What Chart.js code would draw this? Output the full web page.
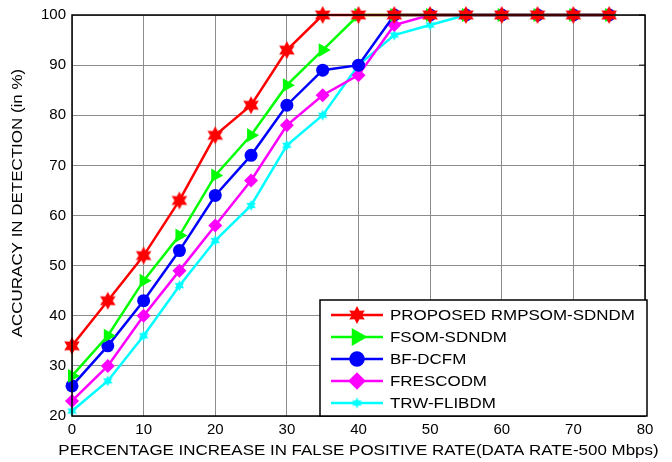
<!DOCTYPE html>
<html><head><meta charset="utf-8">
<script src="https://cdn.jsdelivr.net/npm/chart.js@4.4.1/dist/chart.umd.min.js"></script>
<style>html,body{margin:0;padding:0;background:#fff;}#wrap{width:672px;height:462px;}</style>
</head><body><div id="wrap"><canvas id="c" width="672" height="462"></canvas></div>
<script>
const xValues = [0,5,10,15,20,25,30,35,40,45,50,55,60,65,70,75];
const proposed = [34,43,52,63,76,82,93,100,100,100,100,100,100,100,100,100];
const fsom     = [28,36,47,56,68,76,86,93,100,100,100,100,100,100,100,100];
const bfdcfm   = [26,34,43,53,64,72,82,89,90,100,100,100,100,100,100,100];
const fresco   = [23,30,40,49,58,67,78,84,88,98,100,100,100,100,100,100];
const trw      = [21,27,36,46,55,62,74,80,90,96,98,100,100,100,100,100];
const seriesNames = ['PROPOSED RMPSOM-SDNDM','FSOM-SDNDM','BF-DCFM','FRESCODM','TRW-FLIBDM'];
const xTicks = [0,10,20,30,40,50,60,70,80];
const yTicks = [20,30,40,50,60,70,80,90,100];
const xTitle = 'PERCENTAGE INCREASE IN FALSE POSITIVE RATE(DATA RATE-500 Mbps)';
const yTitle = 'ACCURACY IN DETECTION (in %)';

const FONT = '"Liberation Sans", Arial, sans-serif';

function starCanvas(color, rOut, rIn, n) {
  const s = Math.ceil(rOut*2+2);
  const cv = document.createElement('canvas');
  cv.width = s; cv.height = s;
  const g = cv.getContext('2d');
  g.translate(s/2, s/2);
  g.beginPath();
  for (let i=0;i<2*n;i++){
    const r = i%2===0 ? rOut : rIn;
    const a = -Math.PI/2 + i*Math.PI/n;
    g.lineTo(r*Math.cos(a), r*Math.sin(a));
  }
  g.closePath();
  g.fillStyle = color; g.fill();
  return cv;
}
const redStar = starCanvas('#ff0000', 9, 5, 6);
const cyanStar = starCanvas('#00ffff', 5.5, 3, 6);

const colors = ['#ff0000','#00ff00','#0000ff','#ff00ff','#00ffff'];
const styles = [
  {pointStyle: redStar, pointRadius: 9, rotation:0},
  {pointStyle: 'triangle', pointRadius: 8, rotation:90},
  {pointStyle: 'circle', pointRadius: 6.5, rotation:0},
  {pointStyle: 'rectRot', pointRadius: 7, rotation:0},
  {pointStyle: cyanStar, pointRadius: 5, rotation:0}
];
const allSeries = [proposed, fsom, bfdcfm, fresco, trw];

const datasets = allSeries.map((vals, i) => ({
  label: seriesNames[i],
  data: xValues.map((x, j) => ({x: x, y: vals[j]})),
  borderColor: colors[i],
  backgroundColor: colors[i],
  borderWidth: 2.5,
  pointStyle: styles[i].pointStyle,
  pointRadius: styles[i].pointRadius,
  pointRotation: styles[i].rotation,
  pointBorderWidth: 0,
  pointHoverRadius: styles[i].pointRadius,
  tension: 0,
  clip: false
}));

const SX = 1.13;
function stretchedText(ctx, text, x, y, size, align, rotate) {
  ctx.save();
  ctx.translate(x, y);
  if (rotate) ctx.rotate(-Math.PI/2);
  ctx.scale(SX, 1);
  ctx.font = size + 'px ' + FONT;
  ctx.textAlign = align;
  ctx.textBaseline = 'middle';
  ctx.fillStyle = '#000';
  ctx.fillText(text, 0, 0);
  ctx.restore();
}

const framePlugin = {
  id: 'frame',
  afterDraw(chart) {
    const {ctx, chartArea: a} = chart;
    ctx.save();
    ctx.strokeStyle = '#000';
    ctx.lineWidth = 1.5;
    ctx.strokeRect(a.left, a.top, a.right - a.left, a.bottom - a.top);
    // inner tick marks on right side
    ctx.lineWidth = 1;
    const ys = chart.scales.y;
    yTicks.forEach(v => {
      const py = ys.getPixelForValue(v);
      ctx.beginPath(); ctx.moveTo(a.right - 6, py); ctx.lineTo(a.right, py); ctx.stroke();
    });
    // axis titles
    stretchedText(ctx, xTitle, (a.left + a.right) / 2 + 0, 450.5, 15, 'center', false);
    stretchedText(ctx, yTitle, 18, 203, 15, 'center', true);
    // legend box
    const bx = 320, by = 300, bw = 327, bh = 116;
    ctx.fillStyle = '#fff';
    ctx.fillRect(bx, by, bw, bh);
    ctx.strokeStyle = '#000';
    ctx.lineWidth = 1.5;
    ctx.strokeRect(bx, by, bw, bh);
    for (let i = 0; i < seriesNames.length; i++) {
      const y = by + 15 + i * 22;
      ctx.strokeStyle = colors[i];
      ctx.lineWidth = 2.5;
      ctx.beginPath(); ctx.moveTo(331, y); ctx.lineTo(383, y); ctx.stroke();
      const ps = styles[i].pointStyle;
      ctx.fillStyle = colors[i];
      ctx.strokeStyle = colors[i];
      Chart.helpers.drawPoint(ctx, {pointStyle: ps, radius: styles[i].pointRadius, rotation: styles[i].rotation, borderWidth: 0.01}, 357, y);
      stretchedText(ctx, seriesNames[i], 390, y + 1, 15, 'left', false);
    }
    ctx.restore();
  }
};

new Chart(document.getElementById('c'), {
  type: 'line',
  data: { datasets },
  options: {
    responsive: false,
    animation: false,
    events: [],
    layout: { padding: { top: 14, right: 27, left: 0, bottom: 0 } },
    plugins: { legend: { display: false }, tooltip: { enabled: false } },
    scales: {
      x: {
        type: 'linear', min: 0, max: 80,
        afterBuildTicks(s) { s.ticks = xTicks.map(v => ({value: v})); },
        afterFit(s) { s.height = 46; },
        grid: { color: '#8c8c8c', lineWidth: 1, drawTicks: false },
        border: { display: false },
        ticks: { color: '#000', font: { size: 15, family: FONT }, padding: 5, maxRotation: 0 },
        title: { display: false }
      },
      y: {
        min: 20, max: 100,
        afterBuildTicks(s) { s.ticks = yTicks.map(v => ({value: v})); },
        afterFit(s) { s.width = 72; },
        grid: { color: '#8c8c8c', lineWidth: 1, drawTicks: false },
        border: { display: false },
        ticks: { color: '#000', font: { size: 15, family: FONT }, padding: 6 },
        title: { display: false }
      }
    }
  },
  plugins: [framePlugin]
});
</script>
</body></html>
